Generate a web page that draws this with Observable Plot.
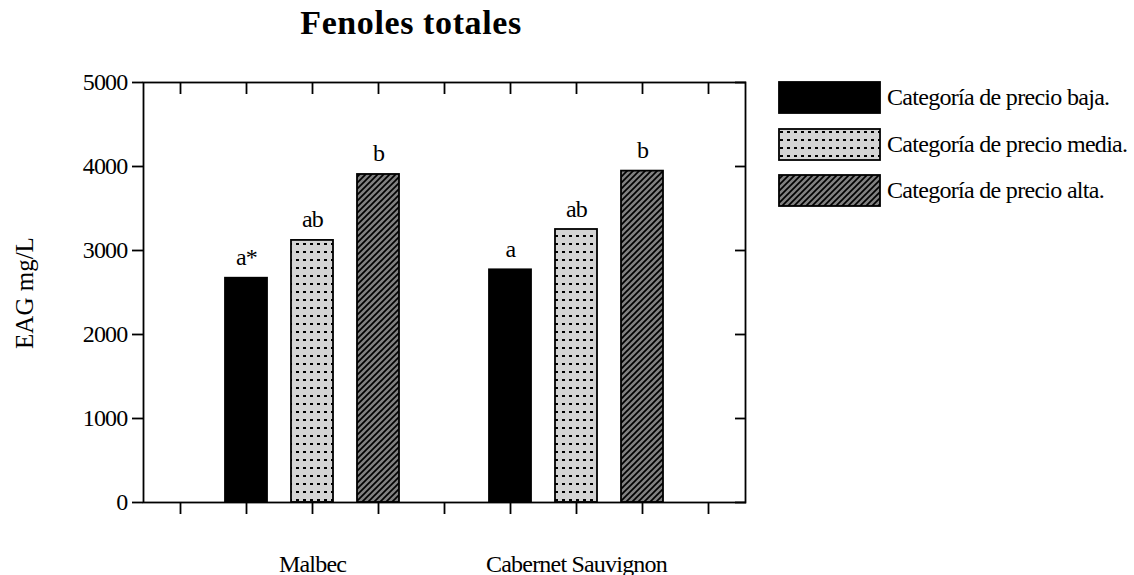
<!DOCTYPE html>
<html>
<head>
<meta charset="utf-8">
<script src="https://cdn.jsdelivr.net/npm/d3@7"></script>
<script src="https://cdn.jsdelivr.net/npm/@observablehq/plot@0.6"></script>
<style>
  html, body { margin: 0; padding: 0; background: #fff; }
  #wrap { position: relative; width: 1134px; height: 575px; overflow: hidden;
          font-family: "Liberation Serif", "Times New Roman", serif; color: #000; }
  #chart svg text { letter-spacing: -0.8px; }
  #title { position: absolute; left: 411px; top: 4px; transform: translateX(-50%);
           font-size: 34px; font-weight: bold; letter-spacing: 0.6px; white-space: nowrap; }
  #ylabel { position: absolute; left: 25px; top: 293px; transform: translate(-50%, -50%) rotate(-90deg);
            font-size: 25px; white-space: nowrap; }
  #legend { position: absolute; left: 778px; top: 82px; }
  .item { position: absolute; left: 0; height: 31px; display: flex; align-items: center; white-space: nowrap; }
  .item svg { display: block; }
  .item span { margin-left: 5px; font-size: 24px; letter-spacing: -0.7px; }
</style>
</head>
<body>
<div id="wrap">
  <div id="chart"></div>
  <div id="title"></div>
  <div id="ylabel"></div>
  <div id="legend"></div>
</div>
<script>
// ---- data ----
const chartTitle = "Fenoles totales";
const yLabel = "EAG mg/L";
const categories = ["Malbec", "Cabernet Sauvignon"];
const priceLevels = ["Categoría de precio baja.", "Categoría de precio media.", "Categoría de precio alta."];
const malbecValues = [2670, 3120, 3905];
const cabernetValues = [2770, 3250, 3945];
const malbecLetters = ["a*", "ab", "b"];
const cabernetLetters = ["a", "ab", "b"];
const yTicks = [0, 1000, 2000, 3000, 4000, 5000];
const levelFills = ["#000000", "url(#pat-dots)", "url(#pat-hatch)"];

// ---- table ----
const seriesValues = [malbecValues, cabernetValues];
const seriesLetters = [malbecLetters, cabernetLetters];
const slots = d3.range(9);
const rows = [];
categories.forEach((c, ci) => {
  priceLevels.forEach((lvl, li) => {
    rows.push({ category: c, level: lvl, slot: 1 + ci * 4 + li,
                value: seriesValues[ci][li], letter: seriesLetters[ci][li] });
  });
});
const groupLabels = categories.map((c, ci) => ({ label: c, slot: 2 + ci * 4 }));

const font = "'Liberation Serif', 'Times New Roman', serif";
const sw = 1.8;
const blank = () => "";

const chart = Plot.plot({
  width: 1134,
  height: 575,
  marginLeft: 143,
  marginRight: 389,
  marginTop: 82,
  marginBottom: 73,
  style: { fontFamily: font, fontSize: "24px", color: "black", background: "white", overflow: "visible" },
  x: { type: "band", domain: slots, paddingInner: 0.37, paddingOuter: 0.185, align: 0.5 },
  y: { domain: [0, 5000] },
  color: { domain: priceLevels, range: levelFills },
  marks: [
    Plot.barY(rows, { x: "slot", y: "value", fill: "level", stroke: "black", strokeWidth: sw }),
    Plot.frame({ stroke: "black", strokeWidth: sw }),
    Plot.axisY({ anchor: "left", ticks: yTicks, tickSize: 11, tickPadding: 5, tickFormat: "d",
                 label: null, fontSize: 24, fontFamily: font, strokeWidth: sw }),
    Plot.axisY({ anchor: "right", ticks: yTicks, tickSize: -11, tickFormat: blank, label: null, strokeWidth: sw }),
    Plot.axisX({ anchor: "top", tickSize: -11, tickFormat: blank, label: null, strokeWidth: sw }),
    Plot.axisX({ anchor: "bottom", tickSize: 12, tickFormat: blank, label: null, strokeWidth: sw }),
    Plot.text(rows, { x: "slot", y: "value", text: "letter", dy: -13, lineAnchor: "bottom",
                      fontSize: 24, fontFamily: font, fill: "black" }),
    Plot.text(groupLabels, { x: "slot", frameAnchor: "bottom", dy: 69, text: "label",
                             fontSize: 24, fontFamily: font, fill: "black" })
  ]
});

function addPatterns(svgSel, prefix) {
  const defs = svgSel.insert("defs", ":first-child");
  const dots = defs.append("pattern").attr("id", prefix + "dots")
    .attr("patternUnits", "userSpaceOnUse").attr("width", 7).attr("height", 8);
  dots.append("rect").attr("width", 7).attr("height", 8).attr("fill", "#d4d4d4");
  dots.append("rect").attr("x", 2).attr("y", 3).attr("width", 3).attr("height", 2).attr("fill", "#000");
  const hatch = defs.append("pattern").attr("id", prefix + "hatch")
    .attr("patternUnits", "userSpaceOnUse").attr("width", 6).attr("height", 6);
  hatch.append("rect").attr("width", 6).attr("height", 6).attr("fill", "#808080");
  hatch.append("path").attr("d", "M-1,1 L1,-1 M0,6 L6,0 M5,7 L7,5")
    .attr("stroke", "#000").attr("stroke-width", 1.7);
}
addPatterns(d3.select(chart), "pat-");
document.getElementById("chart").appendChild(chart);

document.getElementById("title").textContent = chartTitle;
document.getElementById("ylabel").textContent = yLabel;

// legend
const legend = d3.select("#legend");
priceLevels.forEach((lvl, i) => {
  const item = legend.append("div").attr("class", "item").style("top", (i * 46.5) + "px");
  const s = item.append("svg").attr("width", 104).attr("height", 33);
  addPatterns(s, "lg" + i + "-");
  const f = i === 0 ? "#000" : (i === 1 ? "url(#lg1-dots)" : "url(#lg2-hatch)");
  s.append("rect").attr("x", 1).attr("y", 1).attr("width", 101).attr("height", 31)
    .attr("fill", f).attr("stroke", "#000").attr("stroke-width", sw);
  item.append("span").text(lvl);
});
</script>
</body>
</html>
